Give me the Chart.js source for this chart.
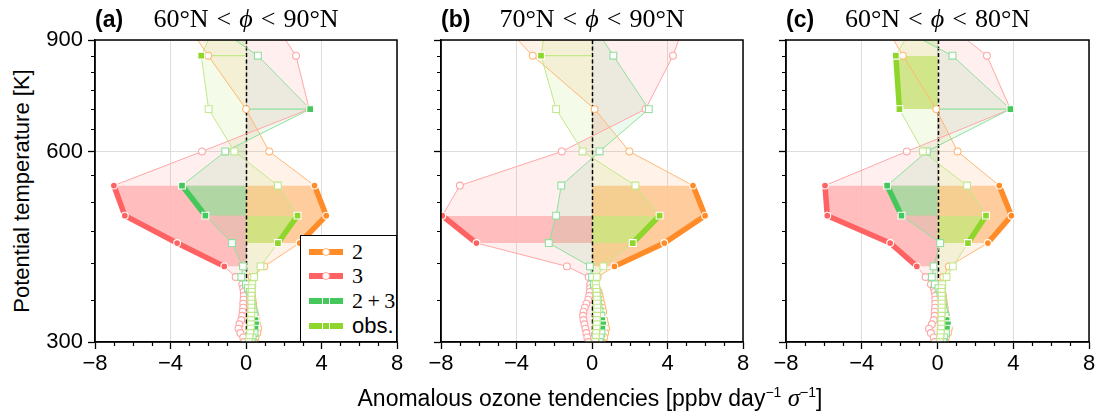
<!DOCTYPE html>
<html>
<head>
<meta charset="utf-8">
<script src="https://cdn.jsdelivr.net/npm/chart.js@4.4.1/dist/chart.umd.min.js"></script>
<style>
  body { margin: 0; background: #fff; }
  #fig { position: relative; width: 1099px; height: 417px; overflow: hidden; font-family: "Liberation Sans", Arial, sans-serif; color: #000; }
  #fig canvas { position: absolute; top: 0; }
  .txt { position: absolute; white-space: nowrap; }
  .tag { font-weight: bold; font-size: 23px; line-height: 26px; top: 6px; }
  .math { font-family: "Liberation Serif", "DejaVu Serif", serif; font-size: 26px; line-height: 26px; top: 6px; transform: translateX(-50%); }
  .math .rel { margin: 0 8px; }
  #ylab { font-size: 22px; left: 22px; top: 191px; transform: translate(-50%, -50%) rotate(-90deg); }
  #xlab { font-size: 23px; left: 590px; top: 398px; transform: translate(-50%, -50%); }
  #xlab sup { font-size: 14px; }
  .sym { font-family: "Liberation Serif", serif; font-style: italic; font-size: 25px; }
  #legend { position: absolute; left: 300px; top: 235px; width: 97px; height: 107px; box-sizing: border-box; border: 1px solid #000; background: #fff; z-index: 5; }
  .swatch { position: absolute; left: 8px; width: 34px; height: 6px; }
  .mk { position: absolute; left: 13px; top: -1px; width: 8px; height: 8px; box-sizing: border-box; border: 1.5px solid #fff; }
  .legtxt { position: absolute; left: 51px; font-size: 22px; line-height: 26px; white-space: nowrap; }
</style>
</head>
<body>
<div id="fig"></div>
<script>
// potential temperature levels (K), top to bottom
const levels = [1000, 850, 700, 600, 530, 475, 430, 395, 380, 370, 365, 360, 355, 350, 345, 340, 335, 330, 325, 320, 315, 310, 305, 300, 295];

const xTicks = [-8, -4, 0, 4, 8];
const xMinor = [-7, -6, -5, -3, -2, -1, 1, 2, 3, 5, 6, 7];
const yTicks = [300, 600, 900];
const yMinor = [350, 400, 450, 500, 550, 650, 700, 750, 800, 850];

const panelTags = ['(a)', '(b)', '(c)'];
const latBands = [['60', '90'], ['70', '90'], ['60', '80']];
const legendLabels = ['2', '3', '2\u2009+\u20093', 'obs.'];

// (a) 60N-90N
const a_s2  = [-3.6, -2.0, 0.0, 1.23, 3.63, 4.25, 2.84, 0.97, 0.3, 0.2, 0.25, 0.3, 0.32, 0.35, 0.38, 0.4, 0.45, 0.5, 0.55, 0.6, 0.65, 0.6, 0.5, 0.45, 0.4];
const a_s3  = [1.07, 2.65, 3.35, -2.33, -7.0, -6.42, -3.65, -1.15, -0.55, -0.2, -0.15, -0.12, -0.12, -0.13, -0.15, -0.15, -0.18, -0.2, -0.25, -0.35, -0.4, -0.3, -0.15, -0.1, -0.05];
const a_s23 = [-2.8, 0.63, 3.4, -1.1, -3.39, -2.15, -0.74, -0.16, -0.25, 0.0, 0.1, 0.2, 0.25, 0.27, 0.3, 0.35, 0.4, 0.45, 0.5, 0.55, 0.5, 0.45, 0.35, 0.3, 0.25];
const a_obs = [-1.3, -2.37, -1.98, -0.62, 1.69, 2.73, 1.69, 0.77, 0.43, 0.33, 0.3, 0.3, 0.29, 0.28, 0.28, 0.28, 0.28, 0.27, 0.27, 0.26, 0.25, 0.22, 0.18, 0.15, 0.12];
const a_sig = [[530, 475, 430], [530, 475, 430, 395], [700, 530, 475, 325, 320, 315], [850, 475, 430]];

// (b) 70N-90N
const b_s2  = [-5.4, -3.14, 0.14, 1.98, 5.35, 5.99, 3.83, 1.19, 0.3, 0.1, 0.25, 0.35, 0.4, 0.45, 0.5, 0.55, 0.6, 0.55, 0.65, 0.7, 0.75, 0.7, 0.65, 0.55, 0.5];
const b_s3  = [5.15, 4.29, 2.84, -1.6, -7.0, -7.93, -6.12, -1.33, -0.18, -0.1, -0.1, -0.12, -0.15, -0.2, -0.3, -0.38, -0.45, -0.48, -0.45, -0.4, -0.35, -0.3, -0.25, -0.2, -0.15];
const b_s23 = [-0.4, 1.13, 3.01, 0.4, -1.63, -1.9, -2.29, -0.11, 0.0, 0.1, 0.2, 0.25, 0.28, 0.3, 0.3, 0.35, 0.4, 0.5, 0.55, 0.6, 0.55, 0.5, 0.45, 0.4, 0.35];
const b_obs = [-2.34, -2.7, -1.9, -0.5, 2.3, 3.58, 2.16, 0.6, 0.25, 0.2, 0.22, 0.24, 0.25, 0.26, 0.26, 0.27, 0.27, 0.27, 0.26, 0.25, 0.24, 0.22, 0.2, 0.17, 0.14];
const b_sig = [[530, 475, 430, 395, 330], [475, 430], [325, 320, 315], [850, 475, 430]];

// (c) 60N-80N
const c_s2  = [-3.2, -1.83, -0.07, 1.06, 3.26, 3.9, 2.66, 0.6, 0.3, 0.1, 0.2, 0.25, 0.3, 0.32, 0.35, 0.38, 0.4, 0.45, 0.5, 0.55, 0.6, 0.55, 0.45, 0.4, 0.35];
const c_s3  = [-0.34, 2.61, 3.85, -1.62, -5.94, -5.82, -2.5, -1.09, -0.63, -0.35, -0.2, -0.15, -0.12, -0.12, -0.12, -0.13, -0.15, -0.15, -0.2, -0.3, -0.45, -0.35, -0.2, -0.15, -0.1];
const c_s23 = [-3.7, 0.79, 3.85, -0.56, -2.66, -1.9, 0.14, -0.21, -0.3, -0.14, 0.05, 0.15, 0.2, 0.25, 0.28, 0.3, 0.35, 0.42, 0.48, 0.55, 0.5, 0.45, 0.35, 0.3, 0.25];
const c_obs = [-0.84, -2.2, -2.01, -0.77, 1.56, 2.56, 1.61, 0.81, 0.48, 0.25, 0.22, 0.22, 0.22, 0.22, 0.22, 0.22, 0.22, 0.21, 0.2, 0.2, 0.19, 0.17, 0.15, 0.12, 0.1];
const c_sig = [[530, 475, 430], [530, 475, 430, 395], [700, 530, 475, 325, 320, 315], [850, 700, 475, 430]];

const panels = [
    { series: [a_s2, a_s3, a_s23, a_obs], sig: a_sig },
    { series: [b_s2, b_s3, b_s23, b_obs], sig: b_sig },
    { series: [c_s2, c_s3, c_s23, c_obs], sig: c_sig }
];

// styling
const STYLES = [
    { main: '#ff8c28', light: '#ffb772', dark: '#ffc893', shape: 'circle' },
    { main: '#ff6262', light: '#ffa6a6', dark: '#ffb6b6', shape: 'circle' },
    { main: '#44c85c', light: '#8fe09c', dark: '#a6daa0', shape: 'rect' },
    { main: '#8fd62c', light: '#c2e88a', dark: '#cde47f', shape: 'rect' }
];
const plotLeft = [95, 441, 786];
const plotWidth = [302, 302, 303];
const plotTop = 40;
const plotBottom = 342;
const axisSpace = 60;
const rightPad = 16;

function rgba(hex, a) {
    const n = parseInt(hex.slice(1), 16);
    return `rgba(${n >> 16},${(n >> 8) & 255},${n & 255},${a})`;
}

function fmt(v) {
    return v < 0 ? '\u2212' + Math.abs(v) : String(v);
}

// consecutive runs of significant levels
function runsOf(sigLevels) {
    const runs = [];
    levels.forEach((lev, i) => {
        if (!sigLevels.includes(lev)) return;
        const last = runs[runs.length - 1];
        if (last && last[last.length - 1] === i - 1) last.push(i);
        else runs.push([i]);
    });
    return runs;
}

const decor = {
    id: 'decor',
    beforeDatasetsDraw(chart) {
        const { ctx, chartArea: a, scales: { x } } = chart;
        const px = Math.round(x.getPixelForValue(0)) + 0.5;
        ctx.save();
        ctx.strokeStyle = '#000';
        ctx.lineWidth = 1.5;
        ctx.setLineDash([4, 2.5]);
        ctx.beginPath();
        ctx.moveTo(px, a.top);
        ctx.lineTo(px, a.bottom);
        ctx.stroke();
        ctx.restore();
    },
    afterDatasetsDraw(chart) {
        const { ctx, chartArea: a, scales: { x, y } } = chart;
        ctx.save();
        ctx.strokeStyle = '#000';
        ctx.lineWidth = 1.2;
        ctx.beginPath();
        xMinor.forEach(v => {
            const px = Math.round(x.getPixelForValue(v)) + 0.5;
            ctx.moveTo(px, a.bottom);
            ctx.lineTo(px, a.bottom + 4);
        });
        yMinor.forEach(v => {
            const py = Math.round(y.getPixelForValue(v)) + 0.5;
            ctx.moveTo(a.left, py);
            ctx.lineTo(a.left - 4, py);
        });
        ctx.stroke();
        ctx.lineWidth = 1.5;
        ctx.strokeRect(a.left, a.top, a.right - a.left, a.bottom - a.top);
        ctx.restore();
    }
};

// each series: light fill + thin line, then its significant part (dark fill, thick line);
// later series are drawn over earlier ones, markers go on top of everything
function buildDatasets(p) {
    const datasets = [];
    STYLES.forEach((st, j) => {
        const vals = p.series[j];
        const sig = p.sig[j];
        const pts = levels.map((lev, i) => ({ x: vals[i], y: lev }));
        const layer = 80 - 10 * j;
        datasets.push({
            data: pts, borderColor: st.light, borderWidth: 1,
            backgroundColor: rgba(st.main, 0.1), fill: 'origin',
            pointRadius: 0, order: layer
        });
        runsOf(sig).forEach(run => {
            if (run.length > 1) {
                datasets.push({
                    data: run.map(i => pts[i]), borderColor: st.main, borderWidth: 5.5,
                    backgroundColor: rgba(st.dark, 0.88), fill: 'origin',
                    pointRadius: 0, order: layer - 1
                });
            } else {
                datasets.push({
                    data: [pts[run[0]], { x: 0, y: levels[run[0]] }],
                    borderColor: st.light, borderWidth: 1.2, fill: false,
                    pointRadius: 0, order: layer - 1
                });
            }
        });
        datasets.push({
            data: pts, showLine: false, fill: false,
            pointStyle: st.shape,
            pointRadius: st.shape === 'rect' ? 4.8 : 3.4,
            pointBorderWidth: 1.1,
            pointBackgroundColor: levels.map(l => sig.includes(l) ? st.main : '#fff'),
            pointBorderColor: levels.map(l => sig.includes(l) ? '#fff' : st.light),
            order: 3 - j
        });
    });
    return datasets;
}

const fig = document.getElementById('fig');
const tickFont = { family: '"Liberation Sans", Arial, sans-serif', size: 22 };

panels.forEach((p, k) => {
    const canvas = document.createElement('canvas');
    canvas.width = axisSpace + plotWidth[k] + rightPad;
    canvas.height = 417;
    canvas.style.left = (plotLeft[k] - axisSpace) + 'px';
    fig.appendChild(canvas);

    new Chart(canvas, {
        type: 'line',
        data: { datasets: buildDatasets(p) },
        options: {
            indexAxis: 'y',
            responsive: false,
            animation: false,
            events: [],
            layout: { padding: { top: plotTop, right: rightPad, left: 0, bottom: 0 } },
            plugins: {
                legend: { display: false },
                tooltip: { enabled: false },
                filler: { drawTime: 'beforeDatasetsDraw' }
            },
            scales: {
                x: {
                    type: 'linear', min: -8, max: 8,
                    afterBuildTicks: s => { s.ticks = xTicks.map(v => ({ value: v })); },
                    afterFit: s => { s.height = 417 - plotBottom; },
                    ticks: { callback: v => fmt(v), font: tickFont, color: '#000', padding: 2, maxRotation: 0, autoSkip: false },
                    grid: { color: '#dddddd', lineWidth: 1, tickColor: '#000', tickLength: 7, tickWidth: 1.3 },
                    border: { color: '#000', width: 1.3 }
                },
                y: {
                    type: 'logarithmic', min: 300, max: 900,
                    afterBuildTicks: s => { s.ticks = yTicks.map(v => ({ value: v })); },
                    afterFit: s => { s.width = axisSpace; },
                    ticks: { callback: v => (k === 0 ? String(v) : ''), font: tickFont, color: '#000', padding: 5, autoSkip: false },
                    grid: { color: '#dddddd', lineWidth: 1, tickColor: '#000', tickLength: 7, tickWidth: 1.3 },
                    border: { color: '#000', width: 1.3 }
                }
            }
        },
        plugins: [decor]
    });

    const tag = document.createElement('div');
    tag.className = 'txt tag';
    tag.style.left = plotLeft[k] + 'px';
    tag.textContent = panelTags[k];
    fig.appendChild(tag);

    const title = document.createElement('div');
    title.className = 'txt math';
    title.style.left = (plotLeft[k] + plotWidth[k] / 2) + 'px';
    title.innerHTML = `${latBands[k][0]}°N<span class="rel">&lt;</span><i>ϕ</i><span class="rel">&lt;</span>${latBands[k][1]}°N`;
    fig.appendChild(title);
});

// axis labels
const ylab = document.createElement('div');
ylab.id = 'ylab';
ylab.className = 'txt';
ylab.textContent = 'Potential temperature [K]';
fig.appendChild(ylab);

const xlab = document.createElement('div');
xlab.id = 'xlab';
xlab.className = 'txt';
xlab.innerHTML = 'Anomalous ozone tendencies [ppbv day<sup>\u22121</sup> <span class="sym">σ</span><sup>\u22121</sup>]';
fig.appendChild(xlab);

// legend inside panel (a)
const legend = document.createElement('div');
legend.id = 'legend';
legendLabels.forEach((label, j) => {
    const st = STYLES[j];
    const cy = 15.5 + j * 24.8;
    const sw = document.createElement('div');
    sw.className = 'swatch';
    sw.style.top = (cy - 3) + 'px';
    sw.style.background = st.main;
    const mk = document.createElement('div');
    mk.className = 'mk';
    if (st.shape === 'circle') {
        mk.style.borderRadius = '50%';
        mk.style.background = '#fff';
        mk.style.borderColor = st.light;
    } else {
        mk.style.background = st.main;
        mk.style.borderColor = '#fff';
    }
    sw.appendChild(mk);
    legend.appendChild(sw);
    const t = document.createElement('div');
    t.className = 'legtxt';
    t.style.top = (cy - 13) + 'px';
    if (label !== 'obs.') t.style.fontFamily = '"Liberation Serif", serif';
    t.textContent = label;
    legend.appendChild(t);
});
fig.appendChild(legend);
</script>
</body>
</html>
